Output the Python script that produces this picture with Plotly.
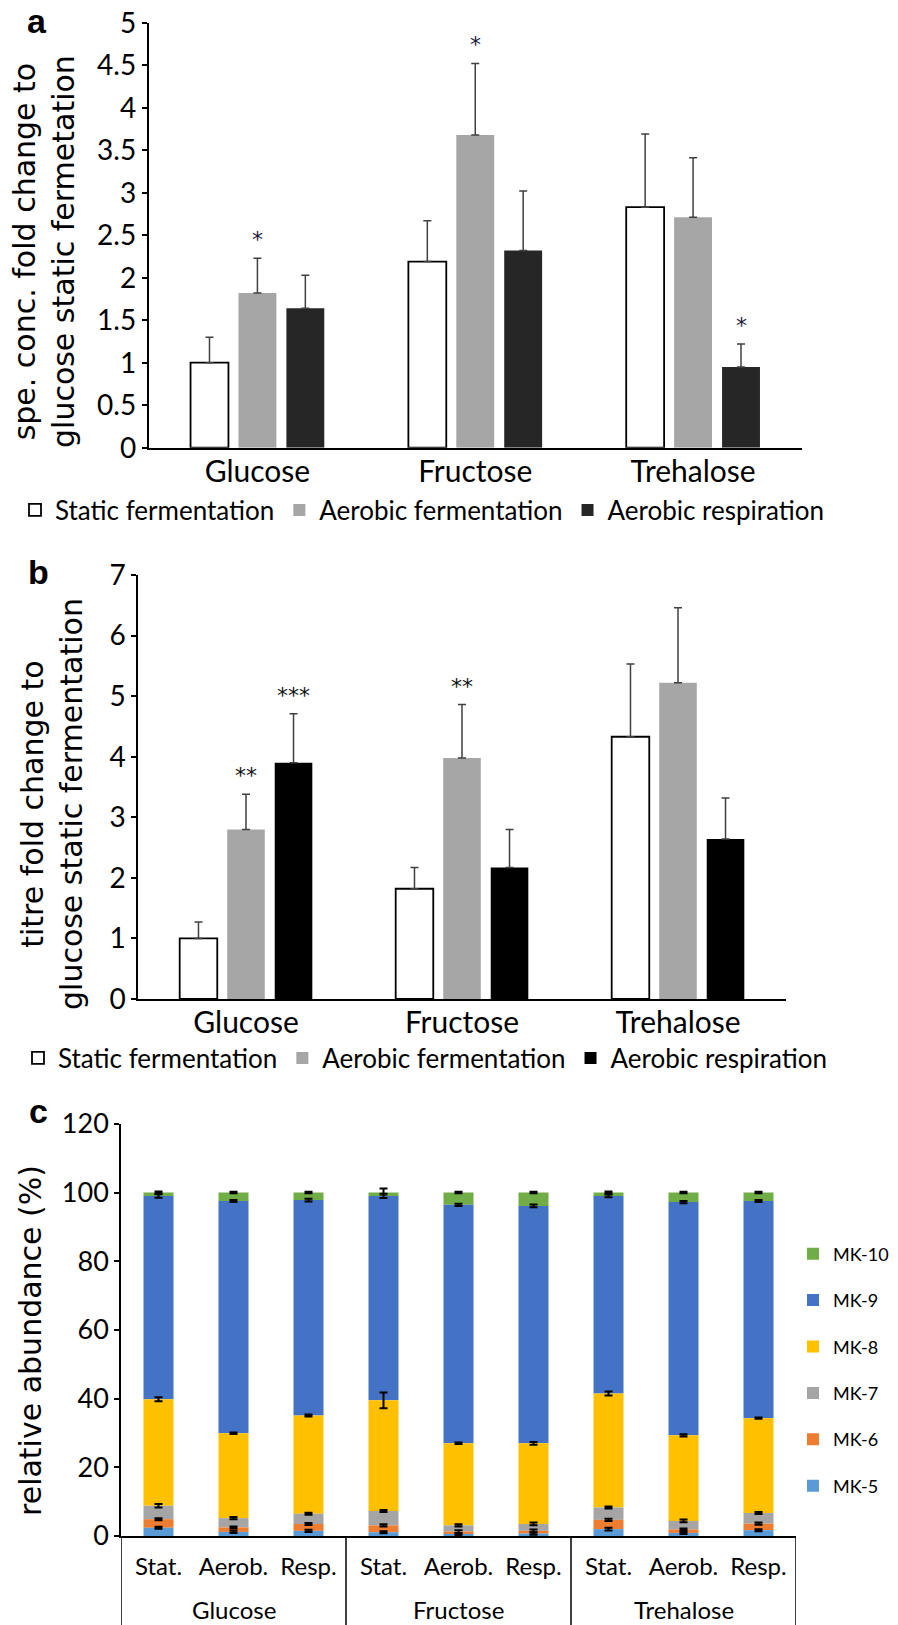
import numpy as np
import plotly.graph_objects as go

# the page body has an 8px margin, so the figure is drawn 8px in from the top-left
PAGE_W, PAGE_H, OFF = 898, 1625, 8
W, H = PAGE_W - OFF, PAGE_H - OFF

SUGARS = ["Glucose", "Fructose", "Trehalose"]
CONDITIONS = ["Static fermentation", "Aerobic fermentation", "Aerobic respiration"]

# panel a - specific concentration, fold change vs glucose static fermentation
A_STATIC = [1.00, 2.19, 2.83]
A_AEROBIC = [1.82, 3.68, 2.71]
A_RESP = [1.64, 2.32, 0.95]
A_STATIC_ERR = [0.30, 0.48, 0.86]
A_AEROBIC_ERR = [0.41, 0.84, 0.70]
A_RESP_ERR = [0.39, 0.70, 0.27]
A_STATIC_SIG = ["", "", ""]
A_AEROBIC_SIG = ["*", "*", ""]
A_RESP_SIG = ["", "", "*"]

# panel b - titre, fold change vs glucose static fermentation
B_STATIC = [1.00, 1.82, 4.33]
B_AEROBIC = [2.80, 3.98, 5.22]
B_RESP = [3.90, 2.17, 2.64]
B_STATIC_ERR = [0.27, 0.35, 1.20]
B_AEROBIC_ERR = [0.58, 0.88, 1.24]
B_RESP_ERR = [0.81, 0.63, 0.68]
B_STATIC_SIG = ["", "", ""]
B_AEROBIC_SIG = ["**", "**", ""]
B_RESP_SIG = ["***", "", ""]

# panel c - menaquinone relative abundance (%)
MODES = ["Stat.", "Aerob.", "Resp."]
MK_NAMES = ["MK-5", "MK-6", "MK-7", "MK-8", "MK-9", "MK-10"]
MK5 = [2.4, 1.2, 1.5, 1.1, 0.6, 0.7, 2.0, 0.9, 1.7]
MK6 = [2.5, 1.3, 2.0, 2.0, 0.7, 0.8, 2.7, 1.0, 1.9]
MK7 = [3.9, 2.7, 3.0, 4.2, 1.8, 2.0, 3.6, 2.5, 3.1]
MK8 = [31.0, 24.7, 28.6, 32.2, 23.9, 23.5, 33.2, 24.9, 27.6]
MK9 = [59.2, 67.6, 62.7, 59.5, 69.4, 69.1, 57.5, 67.9, 63.2]
MK10 = [1.0, 2.5, 2.2, 1.0, 3.6, 3.9, 1.0, 2.8, 2.5]
MK5_ERR = [0.3, 0.3, 0.3, 0.3, 0.3, 0.3, 0.4, 0.3, 0.3]
MK6_ERR = [0.3, 0.3, 0.3, 0.3, 0.4, 0.4, 0.3, 0.3, 0.3]
MK7_ERR = [0.5, 0.3, 0.3, 0.3, 0.3, 0.4, 0.3, 0.4, 0.3]
MK8_ERR = [0.6, 0.2, 0.3, 2.3, 0.2, 0.4, 0.6, 0.3, 0.2]
MK9_ERR = [0.5, 0.3, 0.4, 0.6, 0.3, 0.4, 0.4, 0.3, 0.3]
MK10_ERR = [0.3, 0.2, 0.2, 1.2, 0.2, 0.2, 0.3, 0.2, 0.2]
MK_COLORS = ["#5b9bd5", "#ed7d31", "#a5a5a5", "#ffc000", "#4472c4", "#70ad47"]

LABEL_FONT = "Lato"
TITLE_FONT = "DejaVu Sans"
BAR_W = 0.174
CENTERS = [-0.22, 0.0, 0.22]


def px_x(p):
    # page pixel -> paper fraction
    return (p - OFF) / W


def px_y(p):
    return 1 - (p - OFF) / H


fig = go.Figure()


def add_group_panel(xa, ya, leg, series, resp_color, star_color):
    fills = ["white", "#a6a6a6", resp_color]
    lines = [1.8, 0, 0]
    for i, (vals, errs, sig) in enumerate(series):
        fig.add_trace(go.Bar(
            x=SUGARS, y=vals, name=CONDITIONS[i],
            width=BAR_W, offset=CENTERS[i] - BAR_W / 2,
            marker=dict(color=fills[i], line=dict(color="black", width=lines[i])),
            error_y=dict(type="data", symmetric=False, array=errs,
                         arrayminus=[0] * len(errs), color="#404040",
                         thickness=1.5, width=4),
            xaxis=xa, yaxis=ya, legend=leg, hoverinfo="skip",
        ))
        for j, s in enumerate(sig):
            if s:
                fig.add_annotation(
                    x=j + CENTERS[i], y=vals[j] + errs[j], text=s,
                    xref=xa, yref=ya, showarrow=False, yanchor="bottom",
                    yshift=4, font=dict(family=TITLE_FONT, size=22, color=star_color),
                )


add_group_panel("x", "y", "legend", [
    (A_STATIC, A_STATIC_ERR, A_STATIC_SIG),
    (A_AEROBIC, A_AEROBIC_ERR, A_AEROBIC_SIG),
    (A_RESP, A_RESP_ERR, A_RESP_SIG),
], "#262626", "#1a1a3a")

add_group_panel("x2", "y2", "legend2", [
    (B_STATIC, B_STATIC_ERR, B_STATIC_SIG),
    (B_AEROBIC, B_AEROBIC_ERR, B_AEROBIC_SIG),
    (B_RESP, B_RESP_ERR, B_RESP_SIG),
], "#000000", "#111111")

# panel c: stacked by hand through base, top segment first so error bars stay visible
mk_vals = np.array([MK5, MK6, MK7, MK8, MK9, MK10])
mk_errs = [MK5_ERR, MK6_ERR, MK7_ERR, MK8_ERR, MK9_ERR, MK10_ERR]
bases = np.vstack([np.zeros(mk_vals.shape[1]), np.cumsum(mk_vals, axis=0)[:-1]])
n_mode = len(MODES)
c_pos = np.arange(len(SUGARS) * n_mode)
for k in reversed(range(len(MK_NAMES))):
    fig.add_trace(go.Bar(
        x=c_pos, y=mk_vals[k], base=bases[k], name=MK_NAMES[k], width=0.4,
        marker=dict(color=MK_COLORS[k], line=dict(width=0)),
        error_y=dict(type="data", array=mk_errs[k], color="black",
                     thickness=2, width=4),
        xaxis="x3", yaxis="y3", legend="legend3", legendgroup=MK_NAMES[k],
        hoverinfo="skip",
    ))

# sugar group labels and the divider lines under the panel c axis
for g, sugar in enumerate(SUGARS):
    fig.add_annotation(x=g * n_mode + (n_mode - 1) / 2, y=px_y(1609), xref="x3", yref="paper",
                       text=sugar, showarrow=False, yanchor="middle",
                       font=dict(family=LABEL_FONT, size=24, color="black"))
for g in range(len(SUGARS) + 1):
    fig.add_shape(type="line", xref="x3", yref="paper", x0=g * n_mode - 0.5,
                  x1=g * n_mode - 0.5, y0=px_y(1536), y1=0,
                  line=dict(color="black", width=1.5))

axis_common = dict(showline=True, linecolor="black", showgrid=False, zeroline=False,
                   automargin=False)
y_common = dict(ticks="outside", ticklen=5, tickwidth=1.5, tickcolor="black", linewidth=1.5,
                ticklabeloverflow="allow")
fig.update_layout(
    template="none",
    width=W, height=H,
    margin=dict(l=0, r=0, t=0, b=0, autoexpand=False),
    paper_bgcolor="white", plot_bgcolor="white",
    barmode="overlay", showlegend=True,
    xaxis=dict(domain=[px_x(148.5), px_x(802)], anchor="y", type="category",
               range=[-0.5, 2.5], ticks="", linewidth=2, ticklabelstandoff=-4,
               tickfont=dict(family=LABEL_FONT, size=30, color="black"), **axis_common),
    yaxis=dict(domain=[px_y(447.7), px_y(22.7)], anchor="x", range=[0, 5], dtick=0.5,
               tickfont=dict(family=LABEL_FONT, size=28, color="black"),
               **y_common, **axis_common),
    xaxis2=dict(domain=[px_x(138), px_x(786)], anchor="y2", type="category",
                range=[-0.5, 2.5], ticks="", linewidth=2, ticklabelstandoff=-4,
                tickfont=dict(family=LABEL_FONT, size=30, color="black"), **axis_common),
    yaxis2=dict(domain=[px_y(999), px_y(575)], anchor="x2", range=[0, 7], dtick=1,
                tickfont=dict(family=LABEL_FONT, size=28, color="black"),
                **y_common, **axis_common),
    xaxis3=dict(domain=[px_x(121), px_x(796)], anchor="y3",
                range=[-0.5, c_pos[-1] + 0.5], ticks="", linewidth=1.5,
                tickvals=c_pos, ticktext=MODES * len(SUGARS), tickangle=0,
                ticklabelstandoff=8, ticklabeloverflow="allow",
                tickfont=dict(family=LABEL_FONT, size=24, color="black"), **axis_common),
    yaxis3=dict(domain=[px_y(1536), px_y(1123.8)], anchor="x3", range=[0, 120], dtick=20,
                tickfont=dict(family=LABEL_FONT, size=27, color="black"),
                **y_common, **axis_common),
    legend=dict(orientation="h", x=px_x(15), xanchor="left", y=px_y(510), yanchor="middle",
                font=dict(family=LABEL_FONT, size=26, color="black"), itemwidth=30,
                bgcolor="rgba(0,0,0,0)", traceorder="normal"),
    legend2=dict(orientation="h", x=px_x(18), xanchor="left", y=px_y(1058), yanchor="middle",
                 font=dict(family=LABEL_FONT, size=26, color="black"), itemwidth=30,
                 bgcolor="rgba(0,0,0,0)", traceorder="normal"),
    legend3=dict(orientation="v", x=px_x(793), xanchor="left", y=px_y(1370), yanchor="middle",
                 font=dict(family=LABEL_FONT, size=18, color="black"), itemwidth=30,
                 bgcolor="rgba(0,0,0,0)", tracegroupgap=20, traceorder="grouped"),
)

# axis titles and panel letters (page pixel positions)
titles = [
    ("spe. conc. fold change to<br>glucose static fermetation", 44, 252),
    ("titre fold change to<br>glucose static fermentation", 52, 804),
    ("relative abundance (%)", 30, 1341),
]
for text, cx, cy in titles:
    fig.add_annotation(text=text, x=px_x(cx), y=px_y(cy), xref="paper", yref="paper",
                       textangle=-90, showarrow=False, xanchor="center", yanchor="middle",
                       font=dict(family=TITLE_FONT, size=30, color="black"))

for letter, cx, cy in [("a", 37, 21), ("b", 38, 572), ("c", 39, 1111)]:
    fig.add_annotation(text="<b>%s</b>" % letter, x=px_x(cx), y=px_y(cy), xref="paper",
                       yref="paper", showarrow=False, xanchor="center", yanchor="middle",
                       font=dict(family="Liberation Sans", size=34, color="black"))

fig.write_html("out.html")
